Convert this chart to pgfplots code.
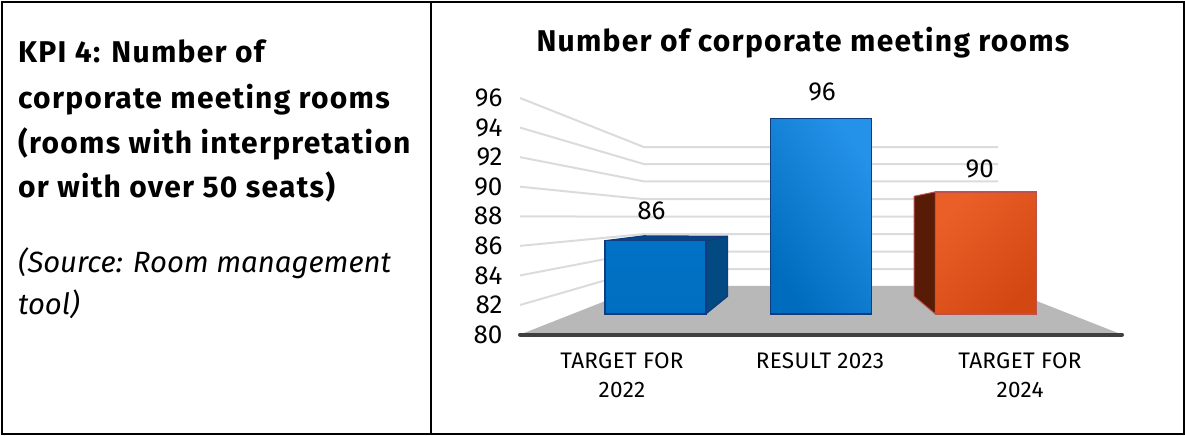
\documentclass[border=0pt]{standalone}
\usepackage{pgfplots}
\pgfplotsset{compat=1.18}
\usepackage{fontspec}
\setmainfont{Fira Sans}
\newfontfamily\spaced[LetterSpace=4.2]{Fira Sans}
\newfontfamily\spacedtick[LetterSpace=1.5]{Fira Sans}
\newcommand{\panelbold}{\fontsize{30}{34}\selectfont\spaced\bfseries}
\newcommand{\panelital}{\fontsize{29.3}{34}\selectfont\itshape}
\begin{document}
\begin{tikzpicture}[x=1pt,y=1pt]
\path (0,0) rectangle (1185,434);
\draw[black,line width=2pt] (1.5,1) rectangle (1184,433);
\draw[black,line width=2pt] (431,0) -- (431,434);

% left text panel
\node[anchor=base west,inner sep=0] at (18,372) {\panelbold KPI 4: Number of};
\node[anchor=base west,inner sep=0] at (18,326) {\panelbold corporate meeting rooms};
\node[anchor=base west,inner sep=0] at (18,281) {\panelbold (rooms with interpretation};
\node[anchor=base west,inner sep=0] at (18,237) {\panelbold or with over 50 seats)};
\node[anchor=base west,inner sep=0] at (18,162) {\panelital (Source: Room management};
\node[anchor=base west,inner sep=0] at (18,120) {\panelital tool)};

% chart title
\node[anchor=base,inner sep=0] at (803,383) {\panelbold Number of corporate meeting rooms};

% value axis with the floor and the grid lines bending into the back wall
\begin{axis}[
  at={(520pt,100.4pt)},anchor=south west,
  scale only axis,width=602pt,height=236.6pt,
  xmin=520,xmax=1122,ymin=80,ymax=96,
  clip=false,
  axis line style={draw=none},
  major tick style={draw=none},
  ytick={80,82,...,96},
  xtick={622,820,1020},
  xticklabels={TARGET FOR\\[1pt]2022,RESULT 2023,TARGET FOR\\[1pt]2024},
  x tick label style={align=center,font=\fontsize{22.5}{28}\selectfont\spacedtick,yshift=-15pt},
  y tick label style={font=\fontsize{26}{28}\selectfont,xshift=-14pt},
  /pgf/number format/assume math mode=true,
]
\addplot[fill=black!28,draw=none] coordinates {(520,80)(644,83.3)(998,83.3)(1122,80)} -- cycle;
\addplot[draw=black!14,line width=2pt] coordinates {(520,82)(644,84.43)(998,84.43)};
\addplot[draw=black!14,line width=2pt] coordinates {(520,84)(644,85.61)(998,85.61)};
\addplot[draw=black!14,line width=2pt] coordinates {(520,86)(644,86.80)(998,86.80)};
\addplot[draw=black!14,line width=2pt] coordinates {(520,88)(644,87.97)(998,87.97)};
\addplot[draw=black!14,line width=2pt] coordinates {(520,90)(644,89.16)(998,89.16)};
\addplot[draw=black!14,line width=2pt] coordinates {(520,92)(644,90.36)(998,90.36)};
\addplot[draw=black!14,line width=2pt] coordinates {(520,94)(644,91.53)(998,91.53)};
\addplot[draw=black!14,line width=2pt] coordinates {(520,96)(644,92.68)(998,92.68)};
\addplot[draw=black!75,line width=4pt,line cap=round] coordinates {(520,80)(1122,80)};
\end{axis}

% bars on the floor, with their own vertical scale
\begin{axis}[
  at={(0pt,121pt)},anchor=south west,
  scale only axis,width=1185pt,height=195.4pt,
  xmin=0,xmax=1185,ymin=80,ymax=96,
  clip=false,hide axis,
  /pgf/number format/assume math mode=true,
  every node near coord/.append style={font=\fontsize{26}{28}\selectfont,anchor=center},
]
% first bar: side and top faces, then the front
\addplot[fill={rgb,255:red,4;green,74;blue,130},draw={rgb,255:red,16;green,60;blue,125},line width=1.2pt,line join=round]
  coordinates {(705.7,80)(727.5,81.45)(727.5,86.36)(705.7,86)} -- cycle;
\addplot[fill={rgb,255:red,6;green,70;blue,134},draw={rgb,255:red,16;green,60;blue,125},line width=1.2pt,line join=round]
  coordinates {(605,86)(644,86.40)(727.5,86.36)(705.7,86)} -- cycle;
\addplot[ybar,bar width=101pt,bar shift=0pt,
  top color={rgb,255:red,2;green,114;blue,198},bottom color={rgb,255:red,0;green,110;blue,192},
  draw={rgb,255:red,16;green,60;blue,125},line width=1.5pt,
  nodes near coords,point meta=y,
  every node near coord/.append style={xshift=-4pt,yshift=30pt}]
  coordinates {(655.4,86)};
% second bar
\addplot[ybar,bar width=101pt,bar shift=0pt,
  top color={rgb,255:red,36;green,146;blue,232},bottom color={rgb,255:red,0;green,108;blue,190},shading angle=-55,
  draw={rgb,255:red,16;green,60;blue,125},line width=1.5pt,
  nodes near coords,point meta=y,
  every node near coord/.append style={xshift=1pt,yshift=26.5pt}]
  coordinates {(821,96)};
% third bar: side face, then the front
\addplot[fill={rgb,255:red,88;green,28;blue,6},draw={rgb,255:red,192;green,80;blue,77},line width=1pt,line join=round]
  coordinates {(935.3,80)(914,81.47)(914,89.64)(935.3,90)} -- cycle;
\addplot[ybar,bar width=101pt,bar shift=0pt,
  top color={rgb,255:red,234;green,94;blue,40},bottom color={rgb,255:red,211;green,71;blue,18},shading angle=45,
  draw={rgb,255:red,192;green,80;blue,77},line width=1.5pt,
  nodes near coords,point meta=y,
  every node near coord/.append style={xshift=-6pt,yshift=23pt}]
  coordinates {(985.8,90)};
\end{axis}
\end{tikzpicture}
\end{document}
